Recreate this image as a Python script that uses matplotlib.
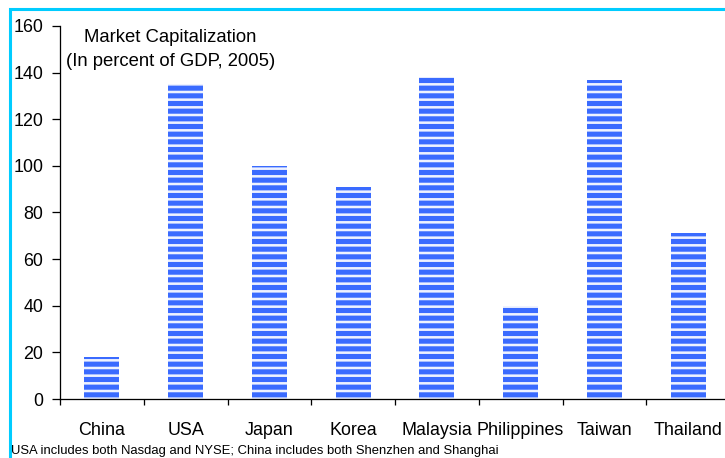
import matplotlib
matplotlib.use("Agg")
import matplotlib.pyplot as plt
from matplotlib.patches import Rectangle

countries = ["China", "USA", "Japan", "Korea", "Malaysia", "Philippines", "Taiwan", "Thailand"]
market_cap = [18, 135, 100, 91, 138, 40, 137, 71]
yticks = [0, 20, 40, 60, 80, 100, 120, 140, 160]

W, H, DPI = 725, 458, 92
plt.rcParams['font.family'] = ['Liberation Sans', 'DejaVu Sans']
plt.rcParams['hatch.color'] = '#3a6bff'
plt.rcParams['hatch.linewidth'] = 4.0

fig = plt.figure(figsize=(W / DPI, H / DPI), dpi=DPI)
ax = fig.add_axes([60 / W, 59 / H, 670 / W, 373 / H])

x = range(len(countries))
ax.bar(x, market_cap, width=0.42, color='#eef2ff', edgecolor='#3a6bff',
       linewidth=0, hatch='--')

ax.set_xlim(-0.5, len(countries) - 0.5)
ax.set_ylim(0, 160)
ax.set_yticks(yticks)
ax.set_yticklabels([str(v) for v in yticks], fontsize=14)
ax.set_xticks([i + 0.5 for i in range(-1, len(countries))])
ax.set_xticklabels([])
ax.set_xticks(list(x), minor=True)
ax.set_xticklabels(countries, minor=True, fontsize=14)
ax.tick_params(axis='x', which='minor', length=0, pad=18)
ax.tick_params(axis='x', which='major', length=5, width=1, direction='out')
ax.tick_params(axis='y', length=6, width=1, pad=7)
for s in ['top', 'right']:
    ax.spines[s].set_visible(False)
for s in ['left', 'bottom']:
    ax.spines[s].set_linewidth(1)

ax.text(0.165, 0.993, "Market Capitalization\n(In percent of GDP, 2005)",
        transform=ax.transAxes, ha='center', va='top', fontsize=14.5,
        linespacing=1.55)

fig.text(11 / W, 1 / H, "USA includes both Nasdag and NYSE; China includes both Shenzhen and Shanghai",
         ha='left', va='bottom', fontsize=10.2)

fig.patches.append(Rectangle((9.5 / W, -0.1), 1.2, (H - 9.5) / H + 0.1,
                             transform=fig.transFigure, fill=False,
                             edgecolor='#00ccff', linewidth=2.4))

fig.savefig('out.png', dpi=DPI)
